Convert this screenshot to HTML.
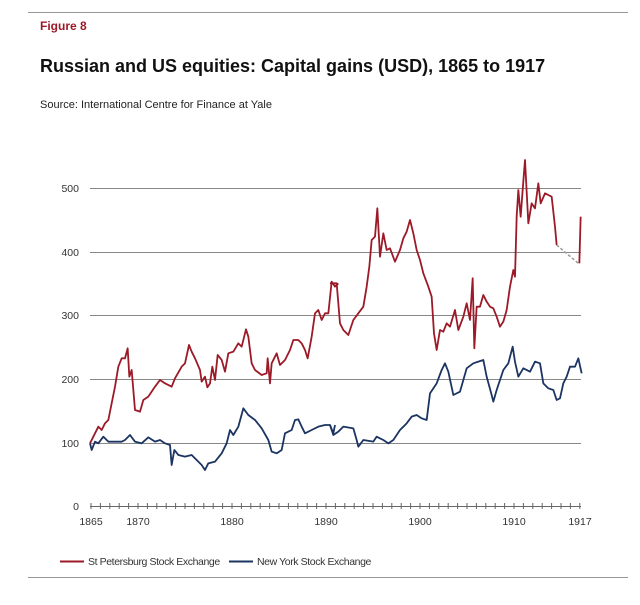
<!DOCTYPE html>
<html><head><style>
body{margin:0;background:#fff;width:640px;height:600px;overflow:hidden;font-family:"Liberation Sans",Arial,sans-serif}
</style></head><body>
<svg width="640" height="600" viewBox="0 0 640 600" xmlns="http://www.w3.org/2000/svg" font-family="Liberation Sans, Arial, sans-serif">
<line x1="28" y1="12.5" x2="628" y2="12.5" stroke="#999" stroke-width="1"/>
<text x="40" y="30" font-size="12" font-weight="bold" fill="#9c1a28">Figure 8</text>
<text x="40" y="72" font-size="18" font-weight="bold" fill="#111">Russian and US equities: Capital gains (USD), 1865 to 1917</text>
<text x="40" y="108" font-size="11" fill="#222">Source: International Centre for Finance at Yale</text>
<g stroke="#888" stroke-width="1">
<line x1="90" y1="188.5" x2="581" y2="188.5"/>
<line x1="90" y1="252.5" x2="581" y2="252.5"/>
<line x1="90" y1="315.5" x2="581" y2="315.5"/>
<line x1="90" y1="379.5" x2="581" y2="379.5"/>
<line x1="90" y1="443.5" x2="581" y2="443.5"/>
<line x1="90" y1="506.5" x2="581" y2="506.5" stroke="#666"/>
</g>
<g font-size="10.5" fill="#333" text-anchor="end">
<text x="79" y="192">500</text><text x="79" y="256">400</text><text x="79" y="319">300</text><text x="79" y="383">200</text><text x="79" y="447">100</text><text x="79" y="510">0</text>
</g>
<path stroke="#666" stroke-width="1" fill="none" d="M91,503v6M100.4,503v6M109.8,503v6M119.2,503v6M128.6,503v6M138,503v6M147.4,503v6M156.8,503v6M166.2,503v6M175.6,503v6M185,503v6M194.4,503v6M203.8,503v6M213.2,503v6M222.6,503v6M232,503v6M241.4,503v6M250.8,503v6M260.2,503v6M269.6,503v6M279,503v6M288.4,503v6M297.8,503v6M307.2,503v6M316.6,503v6M326,503v6M335.4,503v6M344.8,503v6M354.2,503v6M363.6,503v6M373,503v6M382.4,503v6M391.8,503v6M401.2,503v6M410.6,503v6M420,503v6M429.4,503v6M438.8,503v6M448.2,503v6M457.6,503v6M467,503v6M476.4,503v6M485.8,503v6M495.2,503v6M504.6,503v6M514,503v6M523.4,503v6M532.8,503v6M542.2,503v6M551.6,503v6M561,503v6M570.4,503v6M579.8,503v6"/>
<g font-size="10.5" fill="#333" text-anchor="middle">
<text x="91" y="525">1865</text><text x="138" y="525">1870</text><text x="232" y="525">1880</text><text x="326" y="525">1890</text><text x="420" y="525">1900</text><text x="514" y="525">1910</text><text x="580" y="525">1917</text>
</g>
<g fill="none" stroke-linejoin="round">
<g transform="translate(85,150) scale(0.33333)">
<polyline vector-effect="non-scaling-stroke" stroke="#9c1a28" stroke-width="1.8" points="15,880 25,860 40,830 50,840 60,820 70,810 80,760 90,710 100,650 110,625 120,625 128,595 133,680 140,660 150,780 165,785 175,750 190,740 210,710 225,690 240,700 260,710 270,685 290,650 300,640 312,585 320,605 330,625 345,660 350,695 360,680 367,712 375,700 382,650 390,690 398,615 410,630 420,665 430,610 445,605 460,580 470,590 483,538 490,560 500,640 510,660 530,675 545,670 548,625 555,700 560,640 575,610 585,645 600,630 615,600 625,570 640,570 650,580 660,600 668,625 680,560 690,490 700,480 710,510 720,490 730,490 740,395 750,410 760,400"/>
<polyline vector-effect="non-scaling-stroke" stroke="#1b3461" stroke-width="1.8" points="15,880 20,900 30,875 40,880 55,860 70,875 90,875 110,875 120,870 135,855 150,875 170,880 190,862 210,875 225,870 240,880 255,885 260,945 268,900 280,915 300,920 320,915 335,930 350,945 360,960 370,940 390,935 410,910 425,880 435,840 445,855 460,830 475,775 490,795 510,810 530,835 550,870 560,905 575,910 590,900 600,850 620,840 630,810 640,808 650,830 660,850 680,840 700,830 720,825 735,825 745,850 750,825"/>
</g>
<g transform="translate(330,150) scale(0.33333)">
<polyline vector-effect="non-scaling-stroke" stroke="#9c1a28" stroke-width="1.8" points="0,400 10,400 20,400 30,520 40,540 55,555 70,510 85,490 100,470 110,410 118,350 125,270 135,260 142,175 150,320 160,250 170,300 180,295 195,335 210,300 220,265 230,245 240,210 250,250 260,300 270,330 280,370 295,410 305,440 312,550 320,600 330,540 340,545 350,520 360,530 375,480 385,540 400,500 410,460 420,510 428,385 433,595 440,470 450,470 460,435 470,455 480,470 490,475 500,500 510,530 520,515 530,480 540,410 550,360 555,380 560,200 565,120 572,200 578,120 585,30 595,220 605,160 615,175 625,100 632,160 645,130 655,135 665,140 675,230 680,285"/>
<polyline vector-effect="non-scaling-stroke" stroke="#999" stroke-width="1.5" stroke-dasharray="3,2" points="680,285 745,340"/>
<polyline vector-effect="non-scaling-stroke" stroke="#9c1a28" stroke-width="1.8" points="748,340 752,200"/>
<polyline vector-effect="non-scaling-stroke" stroke="#1b3461" stroke-width="1.8" points="0,825 10,855 25,845 40,830 70,835 80,870 85,890 100,870 130,875 140,860 160,870 175,880 190,870 210,840 230,820 245,800 260,795 275,805 290,810 300,730 320,700 335,660 345,640 355,665 370,735 390,725 400,690 410,655 430,640 445,635 460,630 470,680 485,735 490,755 500,720 510,690 520,660 535,640 548,590 555,635 565,680 580,655 600,665 615,635 630,640 640,700 655,715 670,720 680,750 690,745 700,700 710,680 720,650 735,650 745,625 755,670"/>
</g>
</g>
<line x1="60" y1="561.5" x2="84" y2="561.5" stroke="#9c1a28" stroke-width="2"/>
<text x="88" y="565" font-size="10.5" fill="#333" letter-spacing="-0.4">St Petersburg Stock Exchange</text>
<line x1="229" y1="561.5" x2="253" y2="561.5" stroke="#1b3461" stroke-width="2"/>
<text x="257" y="565" font-size="10.5" fill="#333" letter-spacing="-0.4">New York Stock Exchange</text>
<line x1="28" y1="577.5" x2="628" y2="577.5" stroke="#999" stroke-width="1"/>
</svg>
</body></html>
